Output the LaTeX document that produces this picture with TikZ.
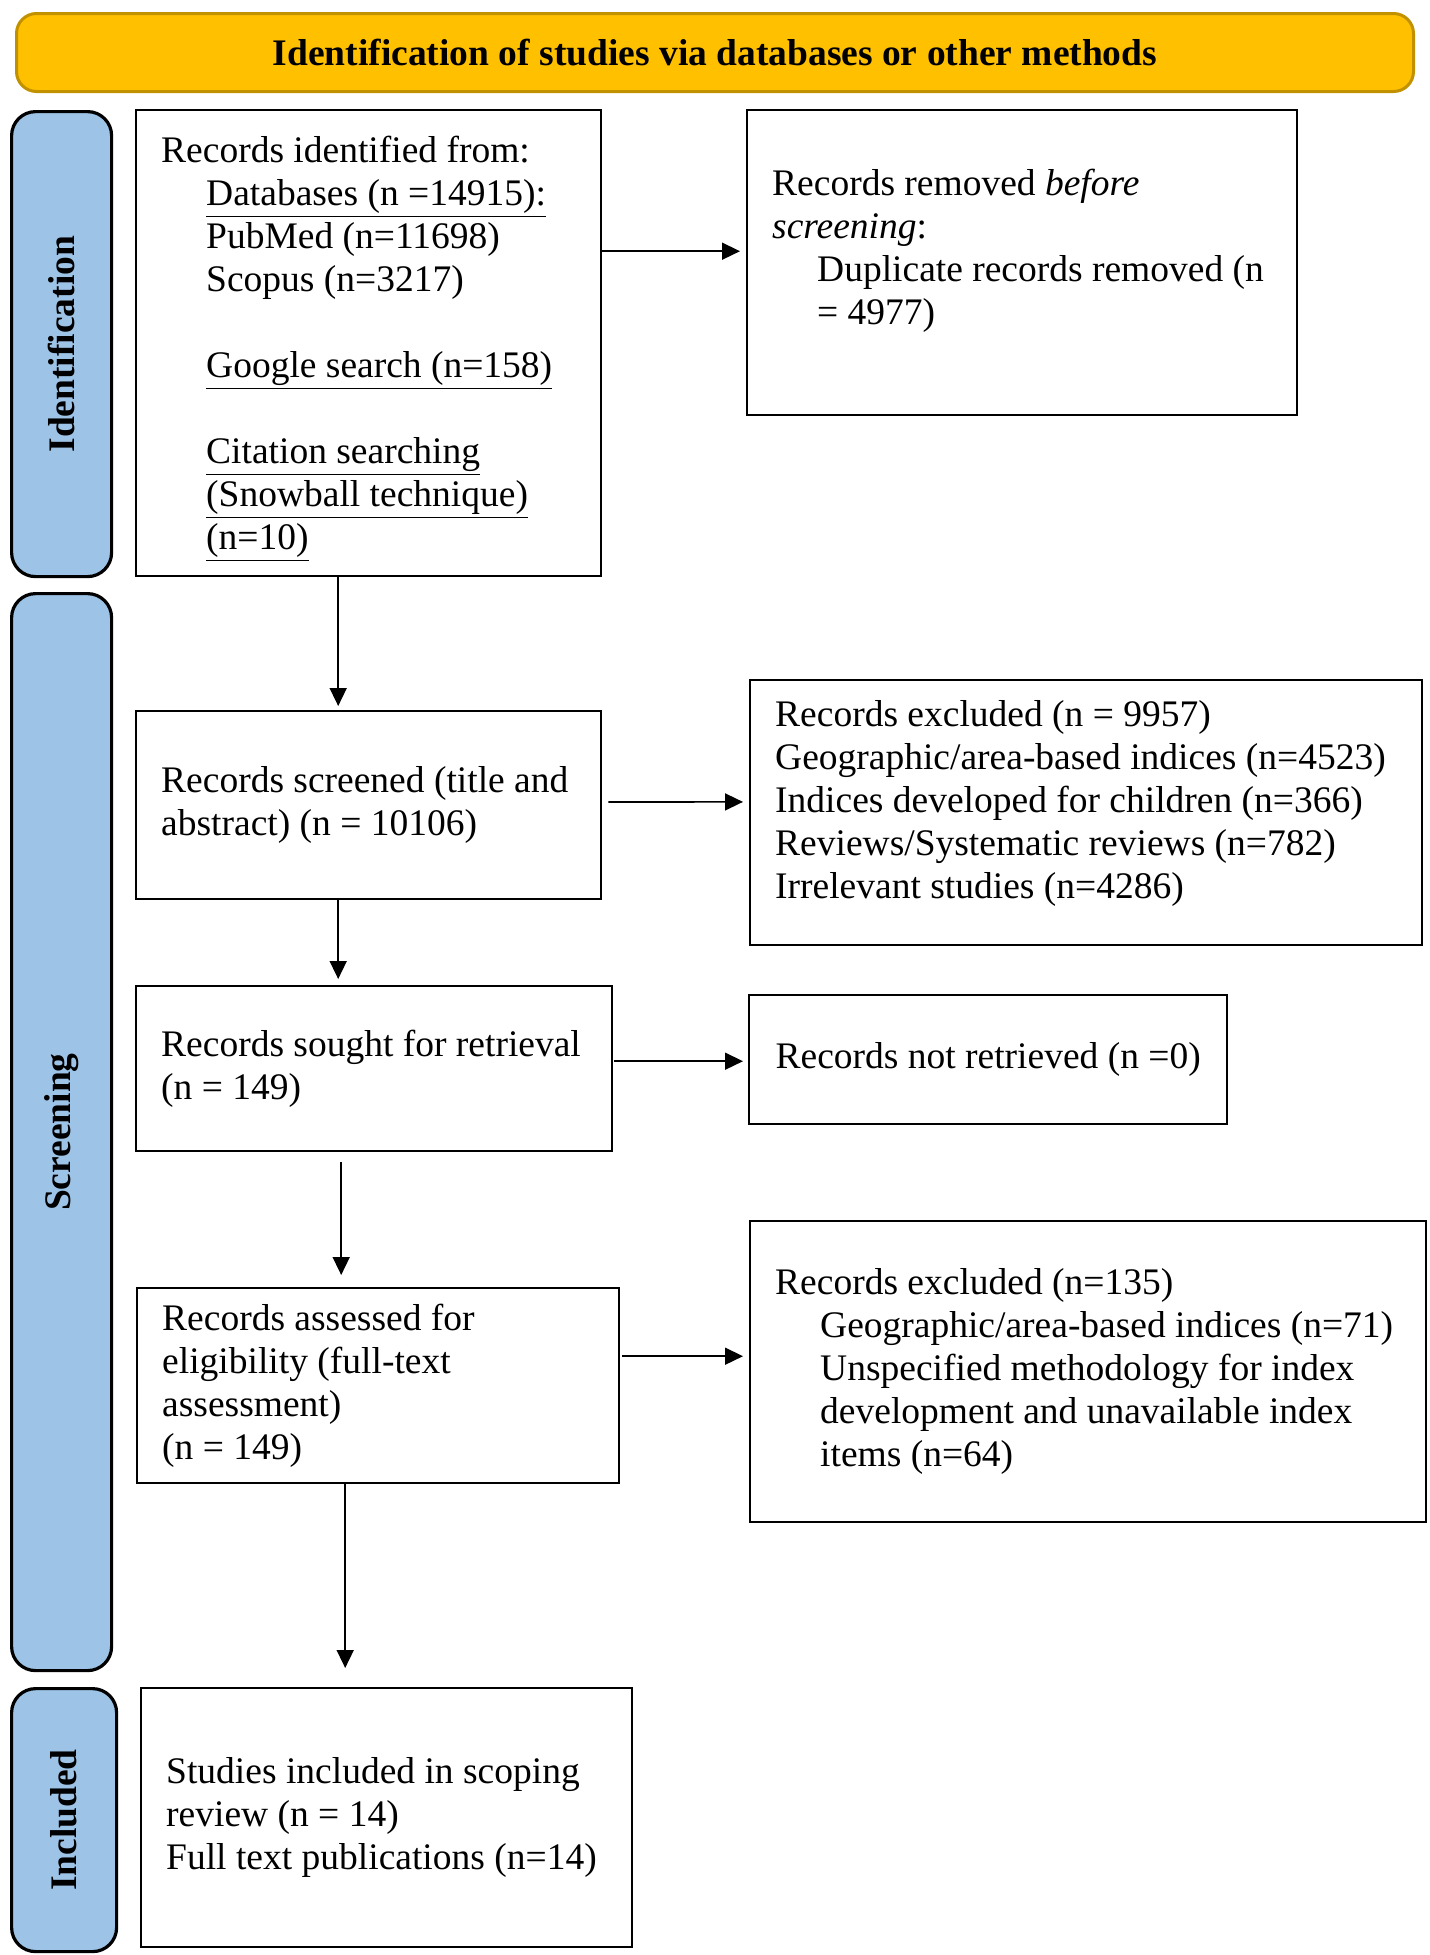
\documentclass[tikz,border=0pt]{standalone}
\usepackage{fontspec}
\setmainfont{Liberation Serif}
\usetikzlibrary{arrows.meta}
\definecolor{headgold}{HTML}{FFC000}
\definecolor{headedge}{HTML}{C29100}
\definecolor{stageblue}{HTML}{9DC3E6}

\begin{document}
\begin{tikzpicture}[x=0.5pt,y=-0.5pt,
		box/.style={draw=black, line width=1.2pt, anchor=north west, inner xsep=12.5pt, inner ysep=4pt, align=flush left, font=\fontsize{18.75}{21.5}\selectfont},
		stage/.style={draw=black, line width=1.6pt, fill=stageblue, rounded corners=12pt, anchor=north west},
		stagelabel/.style={rotate=90, font=\bfseries\fontsize{18.75}{22}\selectfont},
		arr/.style={-{Triangle[length=9pt,width=8.5pt]}, line width=0.8pt}]
		\useasboundingbox (0,0) rectangle (1430,1955);
		% header
		\node[draw=headedge, line width=1.5pt, fill=headgold, rounded corners=10pt, anchor=north west, minimum width=698.5pt, minimum height=39pt, font=\bfseries\fontsize{18.75}{22}\selectfont] (head) at (15,12) {Identification of studies via databases or other methods};
		% stages
		\node[stage, minimum width=50pt, minimum height=232.5pt] (idbar) at (10,110) {};
		\node[stagelabel] at (idbar.center) {Identification};
		\node[stage, minimum width=50pt, minimum height=538.5pt] (scbar) at (10,592) {};
		\node[stagelabel] at (scbar.center) {Screening};
		\node[stage, minimum width=52.5pt, minimum height=131.5pt] (inbar) at (10,1687) {};
		\node[stagelabel] at (inbar.center) {Included};
		% boxes
		\node[box, text width=207.5pt, minimum height=233pt, text height=18.7pt] (found) at (135,109) {Records identified from:\\
			\hspace*{22.5pt}\underline{Databases (n =14915):}\\
			\hspace*{22.5pt}PubMed (n=11698)\\
			\hspace*{22.5pt}Scopus (n=3217)\\[21.5pt]
			\hspace*{22.5pt}\underline{Google search (n=158)}\\[21.5pt]
			\hspace*{22.5pt}\underline{Citation searching}\\
			\hspace*{22.5pt}\underline{(Snowball technique)}\\
			\hspace*{22.5pt}\underline{(n=10)}};
		\node[box, text width=250pt, minimum height=152.5pt, text depth=80.5pt] (removed) at (746,109) {Records removed \textit{before}\\
			\textit{screening}:\\
			\hspace*{22.5pt}Duplicate records removed (n\\
			\hspace*{22.5pt}= 4977)};
		\node[box, text width=207.5pt, minimum height=94pt] (screened) at (135,710) {Records screened (title and\\ abstract) (n = 10106)};
		\node[box, text width=311pt, minimum height=132.5pt, text depth=99pt] (excl1) at (749,679) {Records excluded (n = 9957)\\
			Geographic/area-based indices (n=4523)\\
			Indices developed for children (n=366)\\
			Reviews/Systematic reviews (n=782)\\
			Irrelevant studies (n=4286)};
		\node[box, text width=213pt, minimum height=82.5pt] (sought) at (135,985) {Records sought for retrieval\\ (n = 149)};
		\node[box, minimum width=239pt, minimum height=64.5pt] (notret) at (748,994) {Records not retrieved (n =0)};
		\node[box, text width=216pt, minimum height=97.5pt] (assessed) at (136,1287) {Records assessed for\\ eligibility (full-text\\ assessment)\\ (n = 149)};
		\node[box, text width=313pt, minimum height=150.5pt] (excl2) at (749,1220) {Records excluded (n=135)\\
			\hspace*{22.5pt}Geographic/area-based indices (n=71)\\
			\hspace*{22.5pt}Unspecified methodology for index\\
			\hspace*{22.5pt}development and unavailable index\\
			\hspace*{22.5pt}items (n=64)};
		\node[box, text width=220.5pt, minimum height=129.5pt] (incl) at (140,1687) {Studies included in scoping\\ review (n = 14)\\ Full text publications (n=14)};
		% arrows
		\draw[arr, shorten >=3pt] ([yshift=46pt]found.east) -- ([yshift=5.75pt]removed.west);
		\draw[arr, shorten >=2pt] ([xshift=-15.25pt]found.south) -- ([xshift=-15.25pt]screened.north);
		\draw[arr, shorten <=3pt, shorten >=3pt] ([yshift=1.6pt]screened.east) -- ([yshift=5.4pt]excl1.west);
		\draw[arr, shorten >=3pt] ([xshift=-15.25pt]screened.south) -- ([xshift=-18pt]sought.north);
		\draw[arr, shorten <=0.5pt, shorten >=2.5pt] ([yshift=3.75pt]sought.east) -- ([yshift=-0.75pt]notret.west);
		\draw[arr, shorten <=5pt, shorten >=6pt] ([xshift=-16.5pt]sought.south) -- ([xshift=-18.5pt]assessed.north);
		\draw[arr, shorten <=1pt, shorten >=3pt] ([yshift=14.75pt]assessed.east) -- ([yshift=7.75pt]excl2.west);
		\draw[arr, shorten >=9.5pt] ([xshift=-16.5pt]assessed.south) -- ([xshift=-20.75pt]incl.north);
	\end{tikzpicture}
\end{document}
